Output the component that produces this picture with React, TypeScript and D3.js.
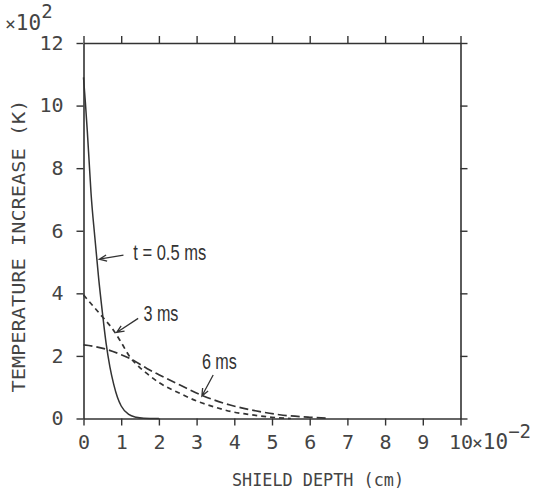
import React, { useEffect, useRef } from "react"
import * as d3 from "d3"

// shield depth (x10^-2 cm) and temperature increase (x10^2 K)
const depth05 = [0, 0.05, 0.1, 0.15, 0.2, 0.3, 0.4, 0.5, 0.6, 0.7, 0.8, 0.9, 1.0, 1.2, 1.4, 1.6, 2.0]
const temp05 = [10.9, 10.1, 9.2, 8.2, 7.2, 5.8, 4.5, 3.4, 2.4, 1.65, 1.1, 0.68, 0.4, 0.13, 0.04, 0.01, 0]

const depth3 = [0, 0.25, 0.5, 0.79, 1.0, 1.23, 1.5, 1.68, 2.0, 2.56, 3.0, 3.44, 4.0, 4.33, 5.0, 5.5]
const temp3 = [3.95, 3.6, 3.25, 2.83, 2.43, 1.97, 1.62, 1.44, 1.15, 0.8, 0.56, 0.38, 0.2, 0.14, 0.04, 0]

const depth6 = [0, 0.3, 0.61, 1.0, 1.23, 1.68, 2.0, 2.56, 3.18, 3.89, 4.68, 5.2, 6.0, 6.5]
const temp6 = [2.35, 2.3, 2.21, 2.04, 1.92, 1.6, 1.4, 1.07, 0.72, 0.43, 0.22, 0.12, 0.04, 0.01]

const xTicks = [0, 1, 2, 3, 4, 5, 6, 7, 8, 9, 10]
const yTicks = [0, 2, 4, 6, 8, 10, 12]

// label text, text anchor, arrow start, arrow tip (data units)
const labels = ["t = 0.5 ms", "3 ms", "6 ms"]
const labelPos = [[1.32, 5.05], [1.59, 3.11], [3.14, 1.57]]
const labelWidth = [73, 35, 35]
const arrowFrom = [[1.06, 5.22], [1.45, 3.2], [3.44, 1.39]]
const arrowTo = [[0.42, 5.09], [0.88, 2.75], [3.14, 0.72]]

const INK = "#333"
const TXT = "#444"
const MONO = "'DejaVu Sans Mono', monospace"
const SANS = "'Liberation Sans', Arial, sans-serif"

const App = () => {
  const ref = useRef<SVGSVGElement>(null)

  useEffect(() => {
    const svg = d3.select(ref.current)
    svg.selectAll("*").remove()

    const x = d3.scaleLinear().domain([0, 10]).range([83.5, 460.5])
    const y = d3.scaleLinear().domain([0, 12]).range([418.5, 43])

    const styleAxis = (g: any) => {
      g.select(".domain").attr("stroke", INK).attr("stroke-width", 1.6)
      g.selectAll(".tick line").attr("stroke", INK).attr("stroke-width", 1.4)
      g.selectAll(".tick text")
        .attr("fill", TXT)
        .attr("font-family", MONO)
        .attr("font-size", 20)
    }

    svg
      .append("g")
      .attr("transform", `translate(0,${y(0)})`)
      .call(
        d3.axisBottom(x).tickValues(xTicks).tickSize(7).tickSizeOuter(0).tickPadding(9)
          .tickFormat((d: any) => String(d))
      )
      .call(styleAxis)

    svg
      .append("g")
      .attr("transform", `translate(0,${y(12)})`)
      .call(d3.axisTop(x).tickValues(xTicks).tickSize(7).tickSizeOuter(0).tickFormat(() => ""))
      .call(styleAxis)

    svg
      .append("g")
      .attr("transform", `translate(${x(0)},0)`)
      .call(
        d3.axisLeft(y).tickValues(yTicks).tickSize(7).tickSizeOuter(0).tickPadding(13)
          .tickFormat((d: any) => String(d))
      )
      .call(styleAxis)

    svg
      .append("g")
      .attr("transform", `translate(${x(10)},0)`)
      .call(d3.axisRight(y).tickValues(yTicks).tickSize(7).tickSizeOuter(0).tickFormat(() => ""))
      .call(styleAxis)

    // exponent labels
    const yExp = svg.append("text").attr("fill", TXT).attr("font-family", MONO)
    yExp.append("tspan").attr("x", 5).attr("y", 30).attr("font-size", 18).text("×")
    yExp.append("tspan").attr("font-size", 21).text("10")
    yExp.append("tspan").attr("dy", -12).attr("font-size", 19).text("2")

    const xExp = svg.append("text").attr("fill", TXT).attr("font-family", MONO)
    xExp.append("tspan").attr("x", 472).attr("y", 449).attr("font-size", 18).text("×")
    xExp.append("tspan").attr("font-size", 21).text("10")
    xExp.append("tspan").attr("dy", -11).attr("font-size", 19).text("−2")

    // axis titles
    svg
      .append("text")
      .attr("x", 318)
      .attr("y", 486)
      .attr("text-anchor", "middle")
      .attr("fill", TXT)
      .attr("font-family", MONO)
      .attr("font-size", 17)
      .attr("textLength", 172)
      .attr("lengthAdjust", "spacingAndGlyphs")
      .text("SHIELD DEPTH (cm)")

    svg
      .append("text")
      .attr("transform", "translate(25,246) rotate(-90)")
      .attr("text-anchor", "middle")
      .attr("fill", TXT)
      .attr("font-family", MONO)
      .attr("font-size", 17)
      .attr("textLength", 293)
      .attr("lengthAdjust", "spacingAndGlyphs")
      .text("TEMPERATURE INCREASE (K)")

    // curves
    const lineGen = d3
      .line<[number, number]>()
      .x((d) => x(d[0]))
      .y((d) => y(d[1]))
      .curve(d3.curveMonotoneX)

    const series = [
      { xs: depth05, ys: temp05, dash: null, width: 1.5 },
      { xs: depth3, ys: temp3, dash: "5,4", width: 1.7 },
      { xs: depth6, ys: temp6, dash: "9,4", width: 1.7 },
    ]
    series.forEach((s) => {
      const pts = s.xs.map((d, i) => [d, s.ys[i]] as [number, number])
      svg
        .append("path")
        .attr("d", lineGen(pts))
        .attr("fill", "none")
        .attr("stroke", INK)
        .attr("stroke-width", s.width)
        .attr("stroke-dasharray", s.dash)
    })

    // annotations
    labels.forEach((t, i) => {
      svg
        .append("text")
        .attr("x", x(labelPos[i][0]))
        .attr("y", y(labelPos[i][1]))
        .attr("fill", INK)
        .attr("font-family", SANS)
        .attr("font-size", 22)
        .attr("textLength", labelWidth[i])
        .attr("lengthAdjust", "spacingAndGlyphs")
        .text(t)

      const x1 = x(arrowFrom[i][0]), y1 = y(arrowFrom[i][1])
      const x2 = x(arrowTo[i][0]), y2 = y(arrowTo[i][1])
      const a = Math.atan2(y1 - y2, x1 - x2)
      const h = 8, s = 0.4
      svg
        .append("path")
        .attr(
          "d",
          `M${x1},${y1}L${x2},${y2}` +
            `M${x2 + h * Math.cos(a + s)},${y2 + h * Math.sin(a + s)}L${x2},${y2}` +
            `L${x2 + h * Math.cos(a - s)},${y2 + h * Math.sin(a - s)}`
        )
        .attr("fill", "none")
        .attr("stroke", INK)
        .attr("stroke-width", 1.3)
    })
  }, [])

  return (
    <svg
      ref={ref}
      width={548}
      height={494}
      style={{ position: "absolute", left: 0, top: 0, background: "#fff" }}
    />
  )
}

export default App
